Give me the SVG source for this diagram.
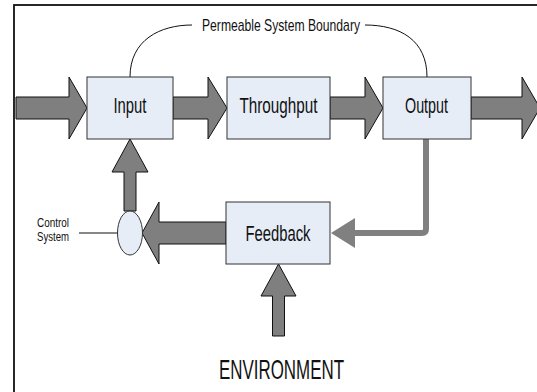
<svg xmlns="http://www.w3.org/2000/svg" width="537" height="392" viewBox="0 0 537 392">
<defs>
<style>
.box{fill:#e6edf7;stroke:#333;stroke-width:1}
.arrow{fill:#7f7f7f;stroke:#111;stroke-width:1;stroke-linejoin:miter}
.t{font-family:"Liberation Sans",Arial,sans-serif;fill:#111;text-anchor:middle}
.lbl{font-family:"Liberation Sans",Arial,sans-serif;fill:#111}
.thin{fill:none;stroke:#111;stroke-width:1}
</style>
</defs>
<rect x="0" y="0" width="537" height="392" fill="#fff"/>
<rect x="14" y="5" width="620" height="500" fill="none" stroke="#111" stroke-width="1.8"/>
<g id="connectors">
<polygon class="arrow" points="16,97 69,97 69,77 87,108 69,139 69,119 16,119"/>
<polygon class="arrow" points="173,97 208,97 208,77 227,108 208,139 208,119 173,119"/>
<polygon class="arrow" points="330,97 365,97 365,77 383,108 365,139 365,119 330,119"/>
<polygon class="arrow" points="471,97 522,97 522,77 540,108 522,139 522,119 471,119"/>
<polygon class="arrow" points="226,222 159,222 159,202 142,233 159,264 159,244 226,244"/>
<polygon class="arrow" points="124,211 124,172 112,172 130,139 148,172 136,172 136,211"/>
<polygon class="arrow" points="272.5,336 272.5,296 261,296 278.5,264 296,296 284.5,296 284.5,336"/>
<path d="M426,139 V229 Q426,233 422,233 H352" fill="none" stroke="#808080" stroke-width="6"/>
<polygon points="331,233 355,218 355,248" fill="#808080"/>
<circle cx="426" cy="139.5" r="1.5" fill="#808080"/>
<path class="thin" d="M130,77 C130,40 160,25 192,25"/>
<path class="thin" d="M365,25 C400,25 427,40 427,77"/>
<line class="thin" x1="79" y1="233" x2="117.5" y2="233"/>
</g>
<g id="boundary-label">
<text class="t" x="281" y="31" font-size="17" textLength="158" lengthAdjust="spacingAndGlyphs">Permeable System Boundary</text>
</g>
<g id="input">
<rect class="box" x="87" y="77" width="86" height="62"/>
<text class="t" x="130" y="113" font-size="22" textLength="33" lengthAdjust="spacingAndGlyphs">Input</text>
</g>
<g id="throughput">
<rect class="box" x="227" y="77" width="103" height="62"/>
<text class="t" x="278.5" y="113" font-size="22" textLength="78" lengthAdjust="spacingAndGlyphs">Throughput</text>
</g>
<g id="output">
<rect class="box" x="383" y="77" width="88" height="62"/>
<text class="t" x="426.5" y="113" font-size="22" textLength="43" lengthAdjust="spacingAndGlyphs">Output</text>
</g>
<g id="feedback">
<rect class="box" x="226" y="202" width="104" height="62"/>
<text class="t" x="278" y="241" font-size="22" textLength="65" lengthAdjust="spacingAndGlyphs">Feedback</text>
</g>
<g id="control-system">
<ellipse class="box" cx="130" cy="233" rx="12.5" ry="22"/>
<text class="lbl" x="37" y="227" font-size="13" textLength="32" lengthAdjust="spacingAndGlyphs">Control</text>
<text class="lbl" x="37" y="241" font-size="13" textLength="32" lengthAdjust="spacingAndGlyphs">System</text>
</g>
<g id="environment">
<text class="t" x="281.5" y="379" font-size="28" textLength="125" lengthAdjust="spacingAndGlyphs">ENVIRONMENT</text>
</g>
</svg>
